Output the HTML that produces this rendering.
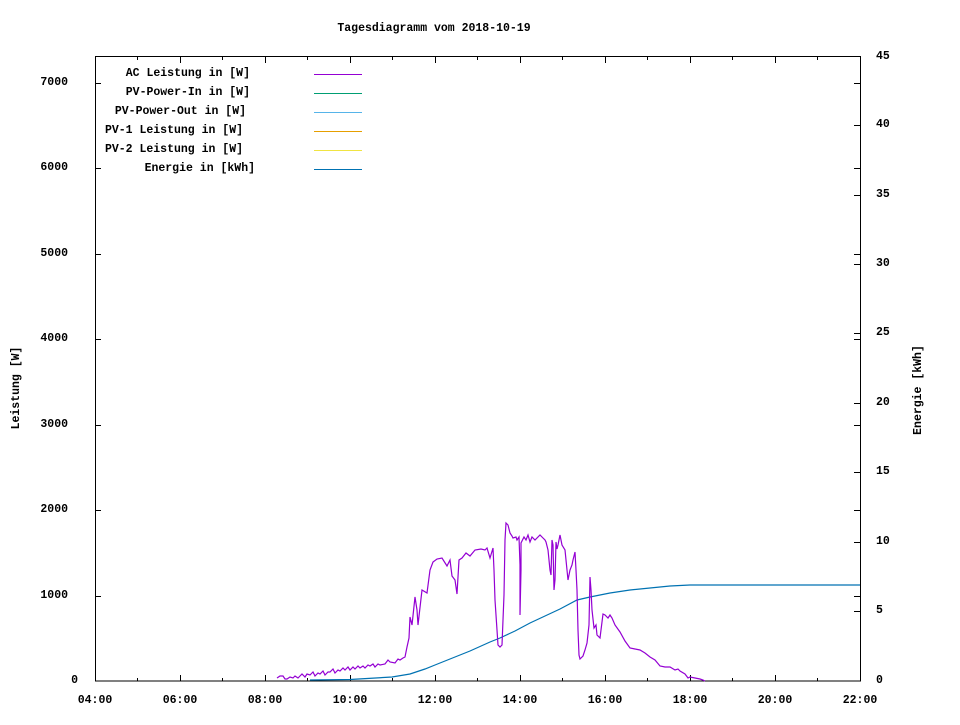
<!DOCTYPE html>
<html><head><meta charset="utf-8"><style>
html,body{margin:0;padding:0;background:#fff;}
svg text{font-family:"Liberation Mono",monospace;font-weight:bold;font-size:11.5px;fill:#000;}
</style></head><body>
<svg width="960" height="720" xmlns="http://www.w3.org/2000/svg">
<rect width="960" height="720" fill="#fff"/>
<text x="434" y="31" text-anchor="middle">Tagesdiagramm vom 2018-10-19</text>
<g stroke="#000" stroke-width="1" fill="none">
<rect x="95.5" y="56.5" width="765" height="624.5"/>
<path d="
M95,596.5h6M95,510.5h6M95,425.5h6M95,339.5h6M95,254.5h6M95,168.5h6M95,83.5h6
M860,596.5h-6M860,510.5h-6M860,425.5h-6M860,339.5h-6M860,254.5h-6M860,168.5h-6M860,83.5h-6
M860,611.5h-6M860,542.5h-6M860,472.5h-6M860,403.5h-6M860,333.5h-6M860,264.5h-6M860,195.5h-6M860,125.5h-6
M180.5,681v-6M265.5,681v-6M350.5,681v-6M435.5,681v-6M520.5,681v-6M605.5,681v-6M690.5,681v-6M775.5,681v-6
M137.5,681v-3M222.5,681v-3M307.5,681v-3M392.5,681v-3M477.5,681v-3M562.5,681v-3M647.5,681v-3M732.5,681v-3M817.5,681v-3
M137.5,57v3M180.5,57v6M222.5,57v3M265.5,57v6M307.5,57v3M350.5,57v6M392.5,57v3M435.5,57v6M477.5,57v3M520.5,57v6M562.5,57v3M605.5,57v6M647.5,57v3M690.5,57v6M732.5,57v3M775.5,57v6M817.5,57v3"/>
</g>
<g text-anchor="end">
<text x="78" y="683">0</text><text x="68" y="598">1000</text><text x="68" y="512">2000</text><text x="68" y="427">3000</text><text x="68" y="341">4000</text><text x="68" y="256">5000</text><text x="68" y="170">6000</text><text x="68" y="85">7000</text>
</g>
<g>
<text x="876" y="683">0</text><text x="876" y="613">5</text><text x="876" y="544">10</text><text x="876" y="474">15</text><text x="876" y="405">20</text><text x="876" y="335">25</text><text x="876" y="266">30</text><text x="876" y="197">35</text><text x="876" y="127">40</text><text x="876" y="59">45</text>
</g>
<g text-anchor="middle">
<text x="95" y="703">04:00</text><text x="180" y="703">06:00</text><text x="265" y="703">08:00</text><text x="350" y="703">10:00</text><text x="435" y="703">12:00</text><text x="520" y="703">14:00</text><text x="605" y="703">16:00</text><text x="690" y="703">18:00</text><text x="775" y="703">20:00</text><text x="860" y="703">22:00</text>
</g>
<text transform="translate(19,388) rotate(-90)" text-anchor="middle">Leistung [W]</text>
<text transform="translate(921,390) rotate(-90)" text-anchor="middle">Energie [kWh]</text>
<g text-anchor="end">
<text x="250" y="76">AC Leistung in [W]</text>
<text x="250" y="95">PV-Power-In in [W]</text>
<text x="246" y="114">PV-Power-Out in [W]</text>
<text x="243" y="133">PV-1 Leistung in [W]</text>
<text x="243" y="152">PV-2 Leistung in [W]</text>
<text x="255" y="171">Energie in [kWh]</text>
</g>
<g stroke-width="1">
<path d="M314,74.5h48" stroke="#9400d3"/>
<path d="M314,93.5h48" stroke="#009e73"/>
<path d="M314,112.5h48" stroke="#56b4e9"/>
<path d="M314,131.5h48" stroke="#e69f00"/>
<path d="M314,150.5h48" stroke="#f0e442"/>
<path d="M314,169.5h48" stroke="#0072b2"/>
</g>
<polyline fill="none" stroke="#0072b2" stroke-width="1.2" points="310,680 350,679.5 392,677 410,674 425,669 435,665 450,659 470,651 490,642 500,638 515,631 530,623 545,616 560,609 577,600 590,597 610,593 630,590 650,588 670,586 690,585 700,585 860,585"/>
<polyline fill="none" stroke="#9400d3" stroke-width="1.2" points="277,678 280,676 283,676 285,679 287,679 290,677 293,678 295,676 298,678 300,676 302,674 305,677 307,674 310,675 313,672 315,676 318,673 320,674 323,671 325,675 328,672 330,672 333,669 335,673 338,670 340,671 343,668 345,670 348,667 350,670 353,667 355,669 358,666 360,668 363,666 365,668 368,665 370,666 373,664 375,667 378,664 380,665 385,664 388,660 390,662 395,663 398,659 400,660 403,658 405,657 407,647 409,638 410,617 412,625 415,597 417,610 418,625 422,590 427,593 430,570 433,562 437,559 442,558 447,566 450,560 452,576 455,580 457,594 459,560 462,558 466,553 470,556 475,550 481,549 485,550 487,548 490,558 493,548 494,570 495,600 497,630 498,645 500,647 502,645 503,620 504,595 505,540 506,523 508,525 510,533 512,536 513,538 516,537 517,540 519,537 520,565 520,615 521,570 521,543 524,537 526,540 528,535 530,542 532,537 535,540 540,535 543,538 545,540 546,542 548,550 550,570 551,575 552,540 553,545 554,590 555,580 556,542 557,549 558,545 560,535 562,545 565,550 568,580 570,570 572,565 573,560 575,552 576,570 577,590 578,630 579,655 580,659 583,656 585,650 587,643 589,625 590,577 591,590 592,610 594,628 596,625 597,635 600,638 603,614 605,615 608,618 610,615 612,618 615,625 620,632 625,641 630,648 635,649 640,650 645,653 650,657 655,660 660,666 665,667 670,667 675,670 678,669 680,671 685,674 688,678 690,677 695,678 700,679 703,680 705,681"/>
</svg>
</body></html>
